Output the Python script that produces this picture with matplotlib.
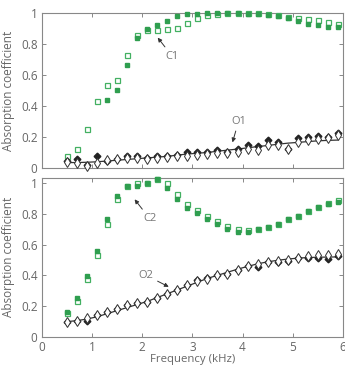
import numpy as np
import matplotlib.pyplot as plt

plt.rcParams['font.family'] = ['Open Sans', 'DejaVu Sans']

# --- data ---
freq = [0.5, 0.7, 0.9, 1.1, 1.3, 1.5, 1.7, 1.9, 2.1, 2.3, 2.5, 2.7, 2.9, 3.1,
        3.3, 3.5, 3.7, 3.9, 4.1, 4.3, 4.5, 4.7, 4.9, 5.1, 5.3, 5.5, 5.7, 5.9]

c1_filled = [None, None, None, None, 0.435, 0.50, 0.665, 0.84, 0.895, 0.92, 0.945, 0.98, 0.995, 0.995,
             1.0, 1.0, 1.0, 1.0, 0.995, 0.99, 0.985, 0.98, 0.965, 0.95, 0.925, 0.92, 0.91, 0.91]
c1_open = [0.075, 0.125, 0.25, 0.43, 0.535, 0.57, 0.73, 0.855, 0.89, 0.89, 0.895, 0.905, 0.935, 0.965,
           0.985, 0.99, 1.0, 1.0, 1.0, 1.0, 0.995, 0.985, 0.97, 0.965, 0.96, 0.955, 0.94, 0.93]
o1_filled = [0.045, 0.06, 0.02, 0.075, 0.045, 0.055, 0.075, 0.075, 0.065, 0.075, 0.08, 0.085, 0.10, 0.10,
             0.105, 0.115, 0.105, 0.12, 0.145, 0.14, 0.18, 0.17, 0.125, 0.195, 0.20, 0.205, 0.20, 0.225]
o1_open = [0.04, 0.035, 0.015, 0.03, 0.05, 0.055, 0.065, 0.065, 0.06, 0.065, 0.07, 0.075, 0.08, 0.085,
           0.09, 0.095, 0.095, 0.105, 0.125, 0.115, 0.15, 0.15, 0.12, 0.17, 0.18, 0.185, 0.195, 0.21]
o1_model = [0.035, 0.035, 0.037, 0.04, 0.045, 0.05, 0.055, 0.06, 0.065, 0.07, 0.075, 0.083, 0.09, 0.095,
            0.10, 0.108, 0.115, 0.122, 0.13, 0.138, 0.145, 0.153, 0.16, 0.165, 0.17, 0.175, 0.178, 0.18]

c2_filled = [0.159, 0.25, 0.398, 0.56, 0.767, 0.92, 0.983, 0.983, 1.0, 1.025, 0.967, 0.895, 0.84, 0.804,
             0.767, 0.733, 0.70, 0.68, 0.68, 0.70, 0.717, 0.737, 0.767, 0.787, 0.82, 0.843, 0.865, 0.878]
c2_open = [0.152, 0.233, 0.376, 0.53, 0.733, 0.898, 0.983, 1.0, 1.0, 1.025, 1.0, 0.928, 0.865, 0.824,
           0.787, 0.754, 0.724, 0.70, 0.698, 0.70, 0.717, 0.737, 0.767, 0.787, 0.82, 0.843, 0.872, 0.89]
o2_filled = [0.098, 0.104, 0.104, 0.141, 0.163, 0.178, 0.207, 0.22, 0.228, 0.254, 0.28, 0.304, 0.337, 0.368,
             0.384, 0.402, 0.41, 0.435, 0.46, 0.457, 0.485, 0.485, 0.492, 0.51, 0.515, 0.51, 0.507, 0.526]
o2_open = [0.098, 0.104, 0.124, 0.141, 0.159, 0.178, 0.207, 0.22, 0.228, 0.254, 0.28, 0.304, 0.337, 0.363,
           0.376, 0.402, 0.41, 0.435, 0.46, 0.472, 0.485, 0.496, 0.50, 0.515, 0.524, 0.53, 0.533, 0.54]
o2_model = [0.098, 0.105, 0.115, 0.13, 0.15, 0.17, 0.19, 0.21, 0.23, 0.255, 0.28, 0.305, 0.33, 0.355,
            0.38, 0.40, 0.42, 0.44, 0.458, 0.475, 0.488, 0.498, 0.506, 0.512, 0.516, 0.518, 0.519, 0.52]

GREEN = '#2f9e4f'
GREEN_OPEN = '#43b062'
GRAY = '#666666'

fig = plt.figure(figsize=(3.45, 3.66), dpi=100)
ax1 = fig.add_axes([0.121, 0.541, 0.873, 0.424])
ax2 = fig.add_axes([0.121, 0.080, 0.873, 0.434])


def draw_panel(ax, c_f, c_o, o_f, o_o, model, ytop):
    c_f = np.array(c_f, dtype=float)
    ax.plot(freq, model, color='#333333', lw=0.9, zorder=2)
    ax.plot(freq, c_o, 's', ms=3.6, mfc='white', mec=GREEN_OPEN, mew=0.9, zorder=3, clip_on=False)
    ax.plot(freq, c_f, 's', ms=3.4, color=GREEN, mec=GREEN, zorder=3.5, clip_on=False)
    ax.plot(freq, o_f, 'D', ms=3.4, color='#222222', zorder=4, clip_on=False)
    ax.plot(freq, o_o, 'd', ms=4.8, mfc='white', mec='#333333', mew=0.7, zorder=4.5, clip_on=False)
    ax.set_xlim(0, 6)
    ax.set_ylim(0, ytop)
    ax.set_yticks([0, 0.2, 0.4, 0.6, 0.8, 1])
    ax.set_yticklabels(['0', '0.2', '0.4', '0.6', '0.8', '1'])
    ax.set_xticks(range(7))
    ax.tick_params(direction='in', top=True, right=True, length=3, width=0.7,
                   colors='#888888', labelcolor=GRAY, labelsize=8.5, pad=3)
    for sp in ax.spines.values():
        sp.set_color('#888888')
        sp.set_linewidth(0.8)
    ax.set_ylabel('Absorption coefficient', color=GRAY, fontsize=8.5, labelpad=4)


draw_panel(ax1, c1_filled, c1_open, o1_filled, o1_open, o1_model, 1.0)
draw_panel(ax2, c2_filled, c2_open, o2_filled, o2_open, o2_model, 1.035)
ax1.set_xticklabels([])
ax2.set_xticklabels(['0', '1', '2', '3', '4', '5', '6'])
ax2.set_xlabel('Frequency (kHz)', color=GRAY, fontsize=8.2, labelpad=0)

arrow = dict(arrowstyle='-|>', color='#333333', lw=0.7, mutation_scale=6, shrinkA=1, shrinkB=0)
ann = dict(color='#777777', fontsize=8, ha='center', va='center')
ax1.annotate('C1', xy=(2.31, 0.84), xytext=(2.6, 0.72), arrowprops=arrow, **ann)
ax1.annotate('O1', xy=(3.8, 0.165), xytext=(3.92, 0.30), arrowprops=arrow, **ann)
ax2.annotate('C2', xy=(1.85, 0.895), xytext=(2.15, 0.77), arrowprops=arrow, **ann)
ax2.annotate('O2', xy=(2.53, 0.325), xytext=(2.08, 0.40), arrowprops=arrow, **ann)

fig.savefig('out.png', dpi=100)
